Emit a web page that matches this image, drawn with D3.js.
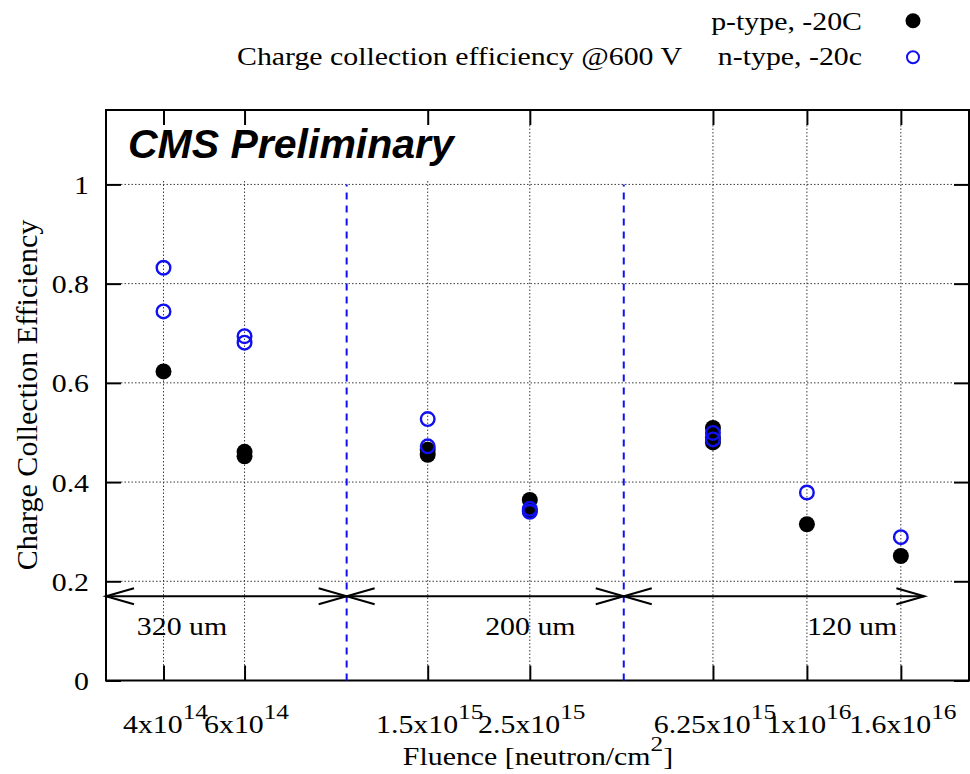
<!DOCTYPE html>
<html>
<head>
<meta charset="utf-8">
<script src="https://cdn.jsdelivr.net/npm/d3@7"></script>
<style>
  html, body { margin: 0; padding: 0; background: #fff; }
  svg { display: block; }
</style>
</head>
<body>
<svg id="chart" width="970" height="774"></svg>
<script>
// Fluence points (neutron/cm^2) that carry ticks and grid lines
const tickFluence = [4e14, 6e14, 1.5e15, 2.5e15, 6.25e15, 1e16, 1.6e16];
const tickMantissa = ["4x10", "6x10", "1.5x10", "2.5x10", "6.25x10", "1x10", "1.6x10"];
const tickExponent = ["14", "14", "15", "15", "15", "16", "16"];
const yTicks = [0, 0.2, 0.4, 0.6, 0.8, 1];
const yTickLabels = ["0", "0.2", "0.4", "0.6", "0.8", "1"];

// p-type sensors, -20C
const pFluence = [4e14, 6e14, 6e14, 1.5e15, 1.5e15, 2.5e15, 2.5e15, 6.25e15, 6.25e15, 6.25e15, 1e16, 1.6e16];
const pCCE     = [0.623, 0.461, 0.452, 0.465, 0.455, 0.364, 0.342, 0.509, 0.490, 0.480, 0.315, 0.251];

// n-type sensors, -20c
const nFluence = [4e14, 4e14, 6e14, 6e14, 1.5e15, 1.5e15, 2.5e15, 2.5e15, 6.25e15, 6.25e15, 1e16, 1.6e16];
const nCCE     = [0.832, 0.744, 0.694, 0.681, 0.527, 0.472, 0.346, 0.340, 0.499, 0.486, 0.379, 0.289];

// Sensor thickness regions
const regionBounds = [3e14, 1e15, 4e15, 1.8e16];
const regionDividers = [1e15, 4e15];
const regionLabels = ["320 um", "200 um", "120 um"];
const regionLabelFluence = [3.5e14, 2e15, 1e16];
const regionArrowCCE = 0.17;
const regionLabelCCE = 0.092;

const xDomain = [3e14, 2.25e16];
const yDomain = [0, 1.15];

const svg = d3.select("#chart");
const plotL = 106, plotR = 969, plotT = 110, plotB = 680.5;

const x = d3.scaleLog().domain(xDomain).range([plotL, plotR]);
const y = d3.scaleLinear().domain(yDomain).range([plotB, plotT]);

const serif = "'Liberation Serif', 'Times New Roman', serif";
const fs = 25.5, sx = 1.17;
const blue = "#1010f0";

function serifText(px, py, anchor) {
  return svg.append("g")
    .attr("transform", `translate(${px},${py}) scale(${sx},1)`)
    .append("text")
    .attr("text-anchor", anchor)
    .attr("font-family", serif)
    .attr("font-size", fs)
    .attr("fill", "#000");
}

const tickLen = 15;

// grid lines
const grid = svg.append("g")
  .attr("stroke", "#3a3a3a").attr("stroke-width", 1).attr("stroke-dasharray", "1.5,2");
tickFluence.forEach(f => {
  grid.append("line").attr("x1", x(f)).attr("x2", x(f))
    .attr("y1", plotB - tickLen).attr("y2", plotT + tickLen);
});
yTicks.filter(v => v > 0).forEach(v => {
  grid.append("line").attr("x1", plotL + tickLen).attr("x2", plotR - tickLen)
    .attr("y1", y(v)).attr("y2", y(v));
});

// white box behind the preliminary tag
svg.append("rect").attr("x", plotL + 2).attr("y", plotT + 4.5)
  .attr("width", 362).attr("height", 66).attr("fill", "#fff");

svg.append("text")
  .attr("x", 128).attr("y", 158)
  .attr("font-family", "'Liberation Sans', Arial, sans-serif")
  .attr("font-weight", "bold").attr("font-style", "italic")
  .attr("font-size", 41).attr("fill", "#000")
  .text("CMS Preliminary");

// axes (ticks point inwards, mirrored on top and right)
const axisG = svg.append("g");
axisG.append("g").attr("transform", `translate(0,${plotB})`)
  .call(d3.axisBottom(x).tickValues(tickFluence).tickSizeInner(-tickLen).tickSizeOuter(0).tickFormat(""));
axisG.append("g").attr("transform", `translate(0,${plotT})`)
  .call(d3.axisTop(x).tickValues(tickFluence).tickSizeInner(-tickLen).tickSizeOuter(0).tickFormat(""));
axisG.append("g").attr("transform", `translate(${plotL},0)`)
  .call(d3.axisLeft(y).tickValues(yTicks).tickSizeInner(-tickLen).tickSizeOuter(0).tickFormat(""));
axisG.append("g").attr("transform", `translate(${plotR},0)`)
  .call(d3.axisRight(y).tickValues(yTicks).tickSizeInner(-tickLen).tickSizeOuter(0).tickFormat(""));
axisG.selectAll(".domain").remove();
axisG.selectAll(".tick line").attr("stroke", "#000").attr("stroke-width", 2);

// frame
svg.append("rect").attr("x", plotL).attr("y", plotT)
  .attr("width", plotR - plotL).attr("height", plotB - plotT)
  .attr("fill", "none").attr("stroke", "#000").attr("stroke-width", 2);

// y tick labels
yTicks.forEach((v, i) => {
  serifText(89, y(v) + 9.5, "end").text(yTickLabels[i]);
});

// x tick labels with exponents
tickFluence.forEach((f, i) => {
  const t = serifText(x(f) + 2, 733, "middle");
  t.append("tspan").text(tickMantissa[i]);
  t.append("tspan").attr("dy", -14).attr("font-size", fs * 0.85).text(tickExponent[i]);
});

// axis titles
const xt = serifText(538, 765, "middle");
xt.append("tspan").text("Fluence [neutron/cm");
xt.append("tspan").attr("dy", -14).attr("font-size", fs * 0.85).text("2");
xt.append("tspan").attr("dy", 14).text("]");

svg.append("text")
  .attr("transform", `translate(37,395) rotate(-90)`)
  .attr("text-anchor", "middle")
  .attr("font-family", serif).attr("font-size", 30)
  .text("Charge Collection Efficiency");

// region dividers
regionDividers.forEach(f => {
  svg.append("line").attr("x1", x(f)).attr("x2", x(f))
    .attr("y1", y(0)).attr("y2", y(1))
    .attr("stroke", blue).attr("stroke-width", 2).attr("stroke-dasharray", "7,6");
});

// double-headed thickness arrows
const arrowG = svg.append("g").attr("stroke", "#000").attr("stroke-width", 2).attr("fill", "none");
const headL = 28, headW = 8;
for (let i = 0; i < regionBounds.length - 1; i++) {
  const x0 = x(regionBounds[i]), x1 = x(regionBounds[i + 1]), ay = y(regionArrowCCE);
  arrowG.append("line").attr("x1", x0).attr("x2", x1).attr("y1", ay).attr("y2", ay);
  arrowG.append("path").attr("d", `M${x0 + headL},${ay - headW}L${x0},${ay}L${x0 + headL},${ay + headW}`);
  arrowG.append("path").attr("d", `M${x1 - headL},${ay - headW}L${x1},${ay}L${x1 - headL},${ay + headW}`);
}
regionLabels.forEach((lab, i) => {
  serifText(x(regionLabelFluence[i]), y(regionLabelCCE), "start").text(lab);
});

// data points: p-type filled, n-type open on top
svg.append("g").selectAll("circle").data(d3.zip(pFluence, pCCE)).join("circle")
  .attr("cx", d => x(d[0])).attr("cy", d => y(d[1])).attr("r", 8)
  .attr("fill", "#000");
svg.append("g").selectAll("circle").data(d3.zip(nFluence, nCCE)).join("circle")
  .attr("cx", d => x(d[0])).attr("cy", d => y(d[1])).attr("r", 6.8)
  .attr("fill", "none").attr("stroke", blue).attr("stroke-width", 2.4);

// legend
serifText(862, 30, "end").text("p-type, -20C");
serifText(862, 65, "end").text("n-type, -20c");
serifText(682, 65, "end").text("Charge collection efficiency @600 V");
svg.append("circle").attr("cx", 913).attr("cy", 20.7).attr("r", 7.5).attr("fill", "#000");
svg.append("circle").attr("cx", 913).attr("cy", 57.3).attr("r", 6).attr("fill", "none")
  .attr("stroke", blue).attr("stroke-width", 2);
</script>
</body>
</html>
